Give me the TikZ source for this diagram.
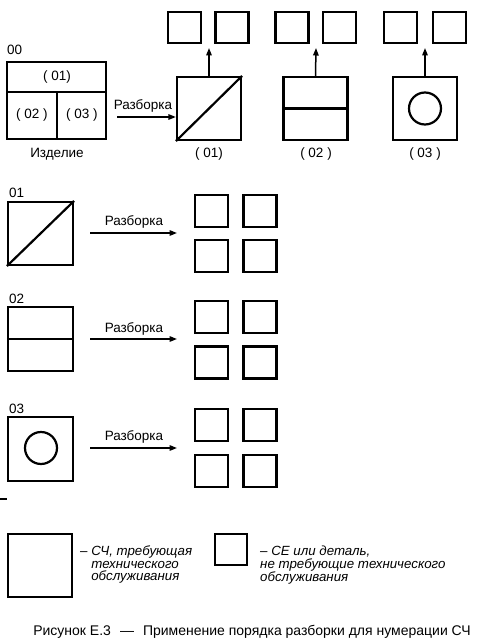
\documentclass[tikz,border=0pt]{standalone}
\usepackage{fontspec}
\setmainfont{Liberation Sans}
\usetikzlibrary{arrows.meta}
\tikzset{
  bx/.style={draw, line width=2.2pt, inner sep=0pt, minimum width=#1},
  bigsq/.style={bx=64pt, minimum height=63pt},
  smsq/.style={bx=33pt, minimum height=31pt},
  rsq/.style={bx=33pt, minimum height=32pt},
  inln/.style={line width=2.2pt},
  arr/.style={line width=1.5pt, -{Triangle[length=7.5pt,width=5.5pt]}},
  lbl/.style={inner sep=0pt, font=\fontsize{13.5}{15}\selectfont},
  leg/.style={inner sep=0pt, align=left, font=\fontsize{13.3}{12.4}\selectfont\itshape},
}
\begin{document}
\begin{tikzpicture}[x=1pt,y=-1pt]
\useasboundingbox[fill=white] (0,0) rectangle (478,642);
% product
\node[lbl, anchor=west] (t00) at (7,50) {00};
\node[bx=99pt, minimum height=77pt] (b00) at (56.5,100.5) {};
\coordinate (h0) at (7,92);
\draw[inln] (h0) -- (h0 -| b00.east);
\coordinate (v0) at (57,92);
\draw[inln] (v0) -- (v0 |- b00.south);
\node[lbl] (p01) at (57,77) {( 01)};
\node[lbl] (p02) at (32,115.5) {( 02 )};
\node[lbl] (p03) at (82,115.5) {( 03 )};
\node[lbl] (izd) at (57,154) {Изделие};
% parts 01 02 03
\node[bigsq] (b01) at (209,108.5) {};
\draw[inln] (b01.south west) -- (b01.north east);
\node[bigsq] (b02) at (315.5,108.5) {};
\draw[inln] (b02.west) -- (b02.east);
\node[bigsq] (b03) at (425,108.5) {};
\node[draw, circle, line width=2.2pt, minimum size=32pt, inner sep=0pt] (c03) at (b03.center) {};
\node[lbl] (l01) at (209,154) {( 01)};
\node[lbl] (l02) at (316,154) {( 02 )};
\node[lbl] (l03) at (425,154) {( 03 )};
% first disassembly
\coordinate (a0) at (117,117);
\draw[arr] (a0) -- (a0 -| b01.west);
\node[lbl] (r0) at (143,105.5) {Разборка};
% top small boxes
\node[smsq] (s11) at (184.5,27.5) {};
\node[smsq] (s12) at (232,27.5) {};
\node[smsq] (s21) at (292,27.5) {};
\node[smsq] (s22) at (339.5,27.5) {};
\node[smsq] (s31) at (400.5,27.5) {};
\node[smsq] (s32) at (449.5,27.5) {};
\coordinate (u1) at (209,48);
\coordinate (u2) at (316,48);
\coordinate (u3) at (425,48);
\draw[arr] (b01.north) -- (u1);
\draw[arr] (b02.north) -- (u2);
\draw[arr] (b03.north) -- (u3);
% row 01
\node[lbl, anchor=west] (t01) at (9,193) {01};
\node[bx=65pt, minimum height=63pt] (r1) at (40.5,233.5) {};
\draw[inln] (r1.south west) -- (r1.north east);
\coordinate (ar1) at (90,233);
\coordinate (ae1) at (177,233);
\draw[arr] (ar1) -- (ae1);
\node[lbl] (rz1) at (134,222) {Разборка};
\node[rsq] (q11) at (211.5,211) {};
\node[rsq] (q12) at (260,211) {};
\node[rsq] (q13) at (211.5,256) {};
\node[rsq] (q14) at (260,256) {};
% row 02
\node[lbl, anchor=west] (t02) at (9,299) {02};
\node[bx=65pt, minimum height=64pt] (r2) at (40.5,339) {};
\draw[inln] (r2.west) -- (r2.east);
\coordinate (ar2) at (90,339);
\coordinate (ae2) at (177,339);
\draw[arr] (ar2) -- (ae2);
\node[lbl] (rz2) at (134,328.5) {Разборка};
\node[rsq] (q21) at (211.5,317) {};
\node[rsq] (q22) at (260,317) {};
\node[rsq] (q23) at (211.5,362.5) {};
\node[rsq] (q24) at (260,362.5) {};
% row 03
\node[lbl, anchor=west] (t03) at (9,409) {03};
\node[bx=65pt, minimum height=64pt] (r3) at (40.5,449) {};
\node[draw, circle, line width=2.2pt, minimum size=32pt, inner sep=0pt] (c3) at (41,448) {};
\coordinate (ar3) at (90,448);
\coordinate (ae3) at (177,448);
\draw[arr] (ar3) -- (ae3);
\node[lbl] (rz3) at (134,437) {Разборка};
\node[rsq] (q31) at (211.5,425) {};
\node[rsq] (q32) at (260,425) {};
\node[rsq] (q33) at (211.5,471) {};
\node[rsq] (q34) at (260,471) {};
% stray dash
\coordinate (d1) at (0,499);
\coordinate (d2) at (7,499);
\draw[line width=1.5pt] (d1) -- (d2);
% legend
\node[bx=64pt, minimum height=63pt] (g1) at (40,565.5) {};
\node[leg, anchor=north west] (gt1) at (80,546) {– СЧ, требующая\\\phantom{– }технического\\\phantom{– }обслуживания};
\node[bx=32pt, minimum height=31pt] (g2) at (231,549.5) {};
\node[leg, anchor=north west] (gt2) at (260,546) {– СЕ или деталь,\\не требующие технического\\обслуживания};
% caption
\node[inner sep=0pt, font=\fontsize{14}{15}\selectfont] (cap) at (252,631.5) {Рисунок Е.3\hspace{9pt}—\hspace{9pt}Применение порядка разборки для нумерации СЧ};
\end{tikzpicture}
\end{document}
